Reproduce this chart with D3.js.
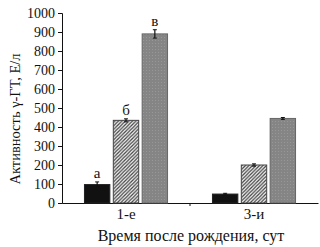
<!DOCTYPE html>
<html>
<head>
<meta charset="utf-8">
<script src="https://cdn.jsdelivr.net/npm/d3@7"></script>
<style>
  body { margin: 0; background: #fff; }
  text { font-family: "Liberation Serif", "DejaVu Serif", serif; fill: #111; }
</style>
</head>
<body>
<div id="chart"></div>
<script>
const groups = ["1-е", "3-и"];
const series = ["s1", "s2", "s3"];
const values = [[97, 435, 890], [47, 200, 445]];
const errors = [[14, 8, 22], [4, 6, 5]];
const letters = [["а", "б", "в"], ["", "", ""]];
const yTicks = [0, 100, 200, 300, 400, 500, 600, 700, 800, 900, 1000];

const W = 320, H = 247;
const margin = {top: 13, right: 2, bottom: 44, left: 62};
const width = W - margin.left - margin.right,
    height = H - margin.top - margin.bottom;

const svg = d3.select("#chart").append("svg")
    .attr("width", W).attr("height", H)
  .append("g")
    .attr("transform", "translate(" + margin.left + "," + margin.top + ")");

const defs = svg.append("defs");
const hatch = defs.append("pattern")
    .attr("id", "hatch").attr("patternUnits", "userSpaceOnUse")
    .attr("width", 3.5).attr("height", 3.5);
hatch.append("rect").attr("width", 3.5).attr("height", 3.5).attr("fill", "#fff");
hatch.append("path").attr("d", "M-1,1 l2,-2 M0,3.5 l3.5,-3.5 M2.5,4.5 l2,-2")
    .attr("stroke", "#444").attr("stroke-width", 1.3);

const dots = defs.append("pattern")
    .attr("id", "dots").attr("patternUnits", "userSpaceOnUse")
    .attr("width", 3).attr("height", 3);
dots.append("rect").attr("width", 3).attr("height", 3).attr("fill", "#858585");
dots.append("rect").attr("width", 1).attr("height", 1).attr("fill", "#989898");

const fills = ["#111", "url(#hatch)", "url(#dots)"];
const strokes = ["#222", "#444", "#666"];

const x0 = d3.scaleBand().domain(groups).range([0, width]);
const x1 = d3.scaleBand().domain(series).range([19, 109]).padding(0.12);
const y = d3.scaleLinear().domain([0, 1000]).range([height, 0]);

// axes
const yAxis = svg.append("g")
    .call(d3.axisLeft(y).tickValues(yTicks).tickFormat(d3.format("d"))
      .tickSize(4).tickPadding(3));
yAxis.selectAll("text").style("font-size", "14px");

const xAxis = svg.append("g")
    .attr("transform", "translate(0," + height + ")")
    .call(d3.axisBottom(x0).tickSize(0).tickPadding(5).tickSizeOuter(0));
xAxis.selectAll("text").style("font-size", "15px");
xAxis.append("line")
    .attr("x1", x0("3-и")).attr("x2", x0("3-и"))
    .attr("y1", 0).attr("y2", 3).attr("stroke", "#111");

svg.selectAll(".domain, .tick line").attr("stroke", "#111");

// bars
const rows = [];
groups.forEach((g, i) => series.forEach((s, j) => rows.push({
  g: g, s: s, j: j, v: values[i][j], e: errors[i][j], l: letters[i][j]
})));

const bar = svg.selectAll(".bar").data(rows).join("g").attr("class", "bar");

bar.append("rect")
    .attr("x", d => x0(d.g) + x1(d.s))
    .attr("y", d => y(d.v))
    .attr("width", x1.bandwidth())
    .attr("height", d => height - y(d.v))
    .attr("fill", d => fills[d.j])
    .attr("stroke", d => strokes[d.j])
    .attr("stroke-width", 1);

const cx = d => x0(d.g) + x1(d.s) + x1.bandwidth() / 2;
bar.append("line")
    .attr("x1", cx).attr("x2", cx)
    .attr("y1", d => y(d.v + d.e)).attr("y2", d => y(d.v - d.e))
    .attr("stroke", "#111").attr("stroke-width", 1.2);
bar.append("line")
    .attr("x1", d => cx(d) - 2).attr("x2", d => cx(d) + 2)
    .attr("y1", d => y(d.v + d.e)).attr("y2", d => y(d.v + d.e))
    .attr("stroke", "#111");
bar.append("line")
    .attr("x1", d => cx(d) - 2).attr("x2", d => cx(d) + 2)
    .attr("y1", d => y(d.v - d.e)).attr("y2", d => y(d.v - d.e))
    .attr("stroke", "#111");

bar.append("text")
    .attr("x", cx)
    .attr("y", d => y(d.v + d.e) - 4)
    .attr("text-anchor", "middle")
    .style("font-size", "15px")
    .text(d => d.l);

// labels
svg.append("text")
    .attr("transform", "rotate(-90)")
    .attr("x", -height / 2 - 11)
    .attr("y", -42)
    .attr("text-anchor", "middle")
    .style("font-size", "14.5px")
    .text("Активность γ-ГТ, Е/л");

svg.append("text")
    .attr("x", width / 2 + 1)
    .attr("y", height + 38)
    .attr("text-anchor", "middle")
    .style("font-size", "16px")
    .text("Время после рождения, сут");
</script>
</body>
</html>
